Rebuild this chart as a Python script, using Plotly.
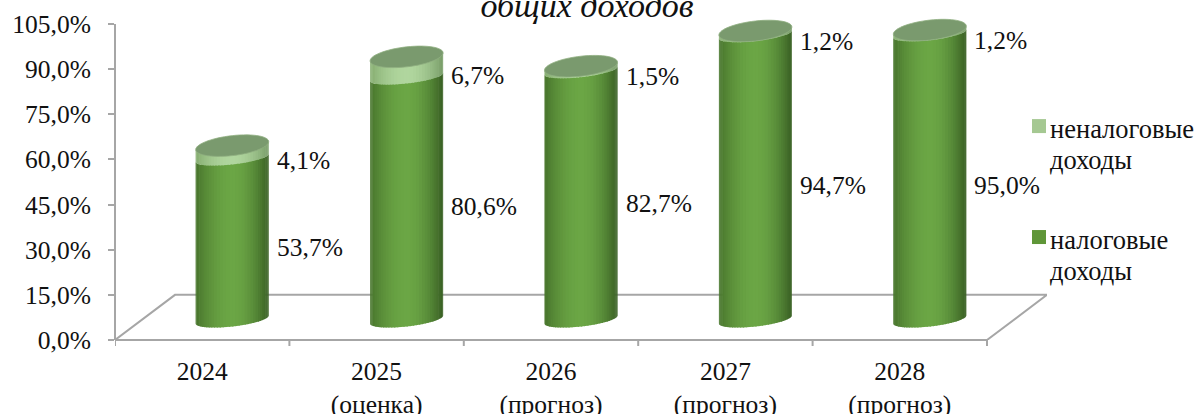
import math
import plotly.graph_objects as go

categories = ["2024", "2025<br>(оценка)", "2026<br>(прогноз)", "2027<br>(прогноз)", "2028<br>(прогноз)"]
tax_income = [53.7, 80.6, 82.7, 94.7, 95.0]
nontax_income = [4.1, 6.7, 1.5, 1.2, 1.2]
name_tax = "налоговые<br>доходы"
name_nontax = "неналоговые<br>доходы"
y_ticks = [0, 15, 30, 45, 60, 75, 90, 105]
y_tick_text = ["0,0%", "15,0%", "30,0%", "45,0%", "60,0%", "75,0%", "90,0%", "105,0%"]
title_text = "общих доходов"

FONT = "Liberation Serif"
FS = 25.5
W, H = 1199, 414
PX_Y = 3.01                       # px per y unit
Y_TOP = 112                       # room above 105 for the cylinder caps
L, R, B = 115, 152, 74
T = H - B - Y_TOP * PX_Y
GREY = "#a6a6a6"
INK = "#111111"
CAT_PX = 174.4                    # px per category
DEPTH = 60 / CAT_PX               # floor depth in category units
FLOOR = 15                        # floor depth in y units
SHIFT = DEPTH / 2                 # cylinders stand mid-floor
HALF = 36.5 / CAT_PX              # cylinder half width
BASE = 6.8                        # y level of the cylinder base centre
SHEAR = 4.0                       # px rise of the ellipses to the right
N = 36
COLOR_TAX = "#5f9638"
COLOR_NONTAX = "#a5c892"

xs = [i + SHIFT for i in range(len(categories))]
base_tax = [BASE] * len(tax_income)
base_non = [BASE + v for v in tax_income]
tops = [BASE + a + b for a, b in zip(tax_income, nontax_income)]
PW, PH = W - L - R, H - T - B


def lerp(c1, c2, t):
    return tuple(c1[k] + (c2[k] - c1[k]) * t for k in range(3))


def shade(s, edge_l, mid, edge_r):
    if s < 0:
        c = lerp(mid, edge_l, min(1, (-s / 0.95)) ** 1.9)
    else:
        c = lerp(mid, edge_r, min(1, (s / 0.95)) ** 1.9)
    return "rgb(%d,%d,%d)" % tuple(round(v) for v in c)


def curve(v, s, b):
    """Value level of an elliptical rim at relative position s (-1..1)."""
    return v + (-b * math.sqrt(max(0, 1 - s * s)) + SHEAR * s) / PX_Y


def strips(x, v0, v1, b0, b1, edge_l, mid, edge_r):
    out = []
    for k in range(N):
        s0 = -math.cos(math.pi * k / N)
        s1 = -math.cos(math.pi * min(k + 1.4, N) / N)
        sm = (s0 - math.cos(math.pi * (k + 1) / N)) / 2
        x0, x1 = x + HALF * s0, x + HALF * s1
        p = (f"M{x0:.5f},{curve(v0, s0, b0):.3f} L{x1:.5f},{curve(v0, s1, b0):.3f} "
             f"L{x1:.5f},{curve(v1, s1, b1):.3f} L{x0:.5f},{curve(v1, s0, b1):.3f} Z")
        out.append(dict(type="path", path=p, xref="x", yref="y", layer="above",
                        line=dict(width=0), fillcolor=shade(sm, edge_l, mid, edge_r)))
    return out


def cap(x, v):
    pts = []
    for k in range(61):
        a = 2 * math.pi * k / 60
        s, q = math.cos(a), math.sin(a)
        pts.append((x + HALF * s, v + (10 * q + SHEAR * s) / PX_Y))
    p = "M" + " L".join(f"{a:.5f},{b:.3f}" for a, b in pts) + " Z"
    return dict(type="path", path=p, xref="x", yref="y", layer="above",
                line=dict(width=0.8, color="#8fae80"), fillcolor="#7a9a6e")


shapes = []
left, right = -0.5, len(categories) - 0.5
floor_path = f"M{left},0 L{left + DEPTH},{FLOOR} L{right + DEPTH},{FLOOR} L{right},0"
shapes.append(dict(type="path", path=floor_path, xref="x", yref="y", layer="below",
                   line=dict(color=GREY, width=2)))
shapes.append(dict(type="line", x0=left, x1=right, y0=0, y1=0, xref="x", yref="paper",
                   layer="below", line=dict(color=GREY, width=2)))
shapes.append(dict(type="line", x0=0, x1=0, y0=0, y1=105, xref="paper", yref="y",
                   layer="below", line=dict(color=GREY, width=2)))
for i in range(len(categories) + 1):
    shapes.append(dict(type="line", x0=left + i, x1=left + i, y0=0, y1=-6 / PH,
                       xref="x", yref="paper", layer="below", line=dict(color=GREY, width=2)))

GREEN = ((74, 120, 46), (107, 166, 69), (60, 100, 38))
LIGHT = ((137, 176, 116), (176, 214, 158), (124, 160, 108))
for x, b0, b1, t in zip(xs, base_tax, base_non, tops):
    shapes += strips(x, b0, b1, 7.0, 6.5, *GREEN)
    shapes += strips(x, b1, t, 6.5, 6.5, *LIGHT)
    shapes.append(cap(x, t))

annotations = []
for bases, vals in ((base_tax, tax_income), (base_non, nontax_income)):
    for x, b, v in zip(xs, bases, vals):
        annotations.append(dict(x=x + HALF, y=b + v / 2, xref="x", yref="y", xanchor="left", yanchor="middle",
                                xshift=6, yshift=-8.5, showarrow=False,
                                text=f"{v:.1f}".replace(".", ",") + "%",
                                font=dict(family=FONT, size=FS, color=INK)))

# legend: square swatch level with the first of two tightly spaced lines
LINE_GAP = 31
for name, color, y_line in ((name_nontax, COLOR_NONTAX, 129), (name_tax, COLOR_TAX, 240)):
    y_sw = y_line - 3
    shapes.append(dict(type="rect", xref="paper", yref="paper",
                       x0=(1032 - L) / PW, x1=(1046 - L) / PW,
                       y0=(H - B - y_sw + 7) / PH, y1=(H - B - y_sw - 7) / PH,
                       line=dict(width=0), fillcolor=color))
    for j, line in enumerate(name.split("<br>")):
        annotations.append(dict(x=(1052 - L) / PW, y=(H - B - y_line - j * LINE_GAP) / PH,
                                xref="paper", yref="paper", xanchor="left", yanchor="middle",
                                showarrow=False, text=line, xshift=-4,
                                font=dict(family=FONT, size=26.5, color=INK)))

fig = go.Figure()
fig.add_trace(go.Bar(x=xs, y=tax_income, base=base_tax, width=HALF * 1.7, name=name_tax,
                     marker=dict(color=COLOR_TAX, line=dict(width=0)), showlegend=False, hoverinfo="skip"))
fig.add_trace(go.Bar(x=xs, y=nontax_income, base=base_non, width=HALF * 1.7, name=name_nontax,
                     marker=dict(color=COLOR_NONTAX, line=dict(width=0)), showlegend=False, hoverinfo="skip"))

fig.update_layout(
    width=W, height=H, barmode="overlay", paper_bgcolor="white", plot_bgcolor="white",
    margin=dict(l=L, r=R, t=T, b=B, pad=0, autoexpand=False),
    font=dict(family=FONT, size=FS, color=INK),
    showlegend=False,
    title=dict(text=title_text, x=587 / W, xanchor="center", y=1 - 5 / H, yanchor="middle",
               font=dict(family=FONT, size=34, style="italic", color=INK)),
    xaxis=dict(range=[left, right + DEPTH], tickmode="array", tickvals=list(range(len(categories))),
               ticktext=categories, ticks="", showgrid=False, zeroline=False, showline=False,
               ticklabelstandoff=13, tickfont=dict(family=FONT, size=FS, color=INK)),
    yaxis=dict(range=[0, Y_TOP], tickmode="array", tickvals=y_ticks, ticktext=y_tick_text,
               ticks="outside", ticklen=6, tickwidth=2, tickcolor=GREY, showline=False,
               showgrid=False, zeroline=False, ticklabelstandoff=12,
               tickfont=dict(family=FONT, size=FS, color=INK)),
    shapes=shapes, annotations=annotations,
)

fig.write_html("out.html", config={"displayModeBar": False},
               post_script="document.body.style.margin='0';document.body.style.overflow='hidden';")
